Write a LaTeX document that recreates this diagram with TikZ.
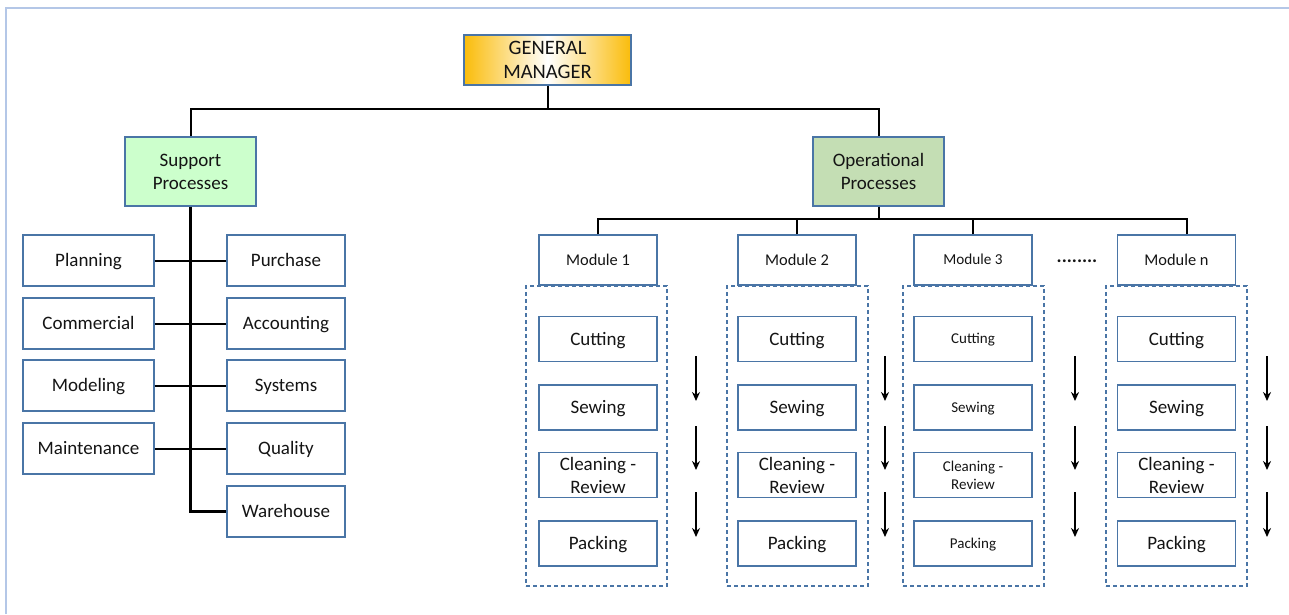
\documentclass[tikz,border=0pt]{standalone}
\usepackage{fontspec}
\setmainfont{Carlito}
\usetikzlibrary{arrows.meta,calc}
\definecolor{bxblue}{RGB}{74,117,166}
\definecolor{frameblue}{RGB}{180,199,231}
\definecolor{goldy}{RGB}{250,188,10}
\definecolor{lightgreen}{RGB}{204,255,204}
\definecolor{opgreen}{RGB}{196,222,180}
\definecolor{txt}{RGB}{20,20,20}
\begin{document}
\begin{tikzpicture}[x=1pt,y=-1pt,
  box/.style={draw=bxblue,line width=1.2pt,inner sep=0pt,align=center,text=txt,
    font=\fontsize{19}{23}\selectfont},
  one/.style={text height=#1,text depth=0pt},
  lbox/.style={box,one=12.2pt,minimum width=131pt,minimum height=51pt},
  rbox/.style={box,one=12.2pt,minimum width=118pt,minimum height=51pt},
  conn/.style={line width=2pt,black},
  trunk/.style={line width=2.6pt,black},
  dbox/.style={draw=bxblue,line width=1.2pt,dash pattern=on 4pt off 3pt,inner sep=0pt},
  arr/.style={line width=2pt,-{Stealth[length=9pt,width=8pt]}},
]
\useasboundingbox (0,0) rectangle (1289,614);
% frame
\draw[frameblue,line width=2pt] (6,614) -- (6,7.5) -- (1289,7.5);

% top level
\node[box,minimum width=167pt,minimum height=50pt,left color=goldy,right color=goldy,middle color=white,
  font=\fontsize{20.5}{24}\selectfont] (gm) at (547.5,60) {GENERAL\\MANAGER};
\node[box,fill=lightgreen,minimum width=131pt,minimum height=69pt] (sp) at (190.5,171.5) {Support\\Processes};
\node[box,fill=opgreen,minimum width=131pt,minimum height=69pt] (op) at (878.5,171.5) {Operational\\Processes};
\coordinate (gmhub) at (547.5,109);
\draw[conn] (gm.south) -- (gmhub);
\draw[conn] (sp.north) |- (gmhub);
\draw[conn] (op.north) |- (gmhub);

% support processes
\node[lbox] (planning) at (88.5,260.5) {Planning};
\node[lbox] (commercial) at (88.5,323.5) {Commercial};
\node[lbox] (modeling) at (88.5,385.5) {Modeling};
\node[lbox] (maintenance) at (88.5,448.5) {Maintenance};
\node[rbox] (purchase) at (286,260.5) {Purchase};
\node[rbox] (accounting) at (286,323.5) {Accounting};
\node[rbox] (systems) at (286,385.5) {Systems};
\node[rbox] (quality) at (286,448.5) {Quality};
\node[rbox] (warehouse) at (286,511.5) {Warehouse};
\draw[trunk] (sp.south) -- (sp.south |- warehouse.west) -- (warehouse.west);
\draw[conn] (planning.east) -- (purchase.west);
\draw[conn] (commercial.east) -- (accounting.west);
\draw[conn] (modeling.east) -- (systems.west);
\draw[conn] (maintenance.east) -- (quality.west);

% operational processes
\coordinate (ophub) at (878.5,219);
\draw[conn] (op.south) -- (ophub);
\foreach \i/\cx/\dx/\ax/\lab/\mf/\mh/\fs/\bs/\ch/\jx in {
   1/598/596.5/696/Module 1/16.4/10.6pt/19/23/12.2pt/0,
   2/797/797.5/885/Module 2/16.4/10.6pt/19/23/12.2pt/0,
   3/973/973.5/1075/Module 3/15.2/9.8pt/15/18/9.7pt/0,
   4/1176.5/1176.5/1267/Module n/16.4/10.6pt/19/23/12.2pt/10.5}{
  \node[box,one=\mh,minimum width=118pt,minimum height=50pt,font=\fontsize{\mf}{20}\selectfont] (m\i) at (\cx,260) {\lab};
  \node[dbox,minimum width=141pt,minimum height=300pt] (d\i) at (\dx,436) {};
  \node[box,one=\ch,minimum width=118pt,minimum height=45pt,font=\fontsize{\fs}{\bs}\selectfont] (c\i) at (\cx,339) {Cutting};
  \node[box,one=\ch,minimum width=118pt,minimum height=45pt,font=\fontsize{\fs}{\bs}\selectfont] (s\i) at (\cx,407.5) {Sewing};
  \node[box,minimum width=118pt,minimum height=45pt,font=\fontsize{\fs}{\bs}\selectfont] (r\i) at (\cx,475) {Cleaning -\\Review};
  \node[box,one=\ch,minimum width=118pt,minimum height=45pt,font=\fontsize{\fs}{\bs}\selectfont] (p\i) at (\cx,543.5) {Packing};
  \coordinate (in\i) at ($(m\i.north)+(\jx,0)$);
  \draw[conn] (in\i) |- (ophub);
  \coordinate (a\i s1) at (\ax,356); \coordinate (a\i e1) at (\ax,401);
  \coordinate (a\i s2) at (\ax,426); \coordinate (a\i e2) at (\ax,470);
  \coordinate (a\i s3) at (\ax,492); \coordinate (a\i e3) at (\ax,537);
  \draw[arr] (a\i s1) -- (a\i e1);
  \draw[arr] (a\i s2) -- (a\i e2);
  \draw[arr] (a\i s3) -- (a\i e3);
}
\node[inner sep=0pt,text=txt,font=\fontsize{19}{19}\selectfont\bfseries] (dots) at (1077,261) {........};
\end{tikzpicture}
\end{document}
